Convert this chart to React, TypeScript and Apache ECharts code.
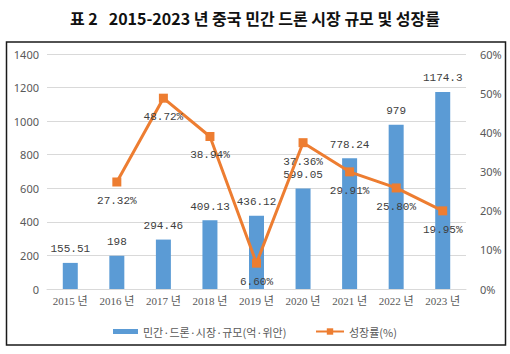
import React, { useEffect, useRef } from "react";
import * as echarts from "echarts";

const titleText = "표 2   2015-2023 년 중국 민간 드론 시장 규모 및 성장률";
const years = ["2015 년", "2016 년", "2017 년", "2018 년", "2019 년", "2020 년", "2021 년", "2022 년", "2023 년"];
const marketSize = [155.51, 198, 294.46, 409.13, 436.12, 599.05, 778.24, 979, 1174.3];
const growthRate: (number | null)[] = [null, 27.32, 48.72, 38.94, 6.6, 37.36, 29.91, 25.8, 19.95];
const barName = "민간·드론·시장·규모(억·위안)";
const lineName = "성장률(%)";

const BLUE = "#5B9BD5";
const ORANGE = "#ED7D31";
const MONO = "'Liberation Mono', 'Noto Sans CJK KR', monospace";

export default function App() {
  const ref = useRef<HTMLDivElement>(null);
  useEffect(() => {
    const chart = echarts.init(ref.current!, null, { renderer: "svg" });
    chart.setOption({
      animation: false,
      backgroundColor: "#fff",
      title: {
        text: titleText,
        left: "center",
        top: 5,
        textStyle: {
          fontFamily: "'Noto Sans CJK KR', sans-serif",
          fontSize: 16,
          fontWeight: "bold",
          color: "#111",
        },
      },
      graphic: [
        {
          type: "rect",
          shape: { x: 6.5, y: 42, width: 499, height: 303 },
          style: { fill: "none", stroke: "#1a1a1a", lineWidth: 1.5 },
          silent: true,
        },
      ],
      grid: { left: 47, right: 44, top: 54, bottom: 65 },
      legend: [
        {
          data: [barName],
          left: 108,
          top: 321,
          icon: "rect",
          itemWidth: 25,
          itemHeight: 5,
          itemGap: 5,
          textStyle: { color: "#595959", fontSize: 11, fontFamily: "'Noto Sans CJK KR', sans-serif" },
        },
        {
          data: [lineName],
          left: 310,
          top: 321,
          itemWidth: 28,
          itemHeight: 8,
          textStyle: { color: "#595959", fontSize: 11, fontFamily: "'Noto Sans CJK KR', sans-serif" },
        },
      ],
      xAxis: {
        type: "category",
        data: years,
        axisTick: { show: false },
        axisLine: { lineStyle: { color: "#D9D9D9" } },
        axisLabel: {
          color: "#595959",
          fontSize: 11,
          margin: 6,
          interval: 0,
          fontFamily: "'Liberation Serif', 'Noto Sans CJK KR', serif",
        },
      },
      yAxis: [
        {
          type: "value",
          min: 0,
          max: 1400,
          interval: 200,
          axisLabel: {
            color: "#595959",
            fontSize: 11,
            margin: 8,
            formatter: (v: number) => String(v),
            fontFamily: "'Noto Sans', sans-serif",
          },
          splitLine: { lineStyle: { color: "#D9D9D9" } },
          axisLine: { show: false },
          axisTick: { show: false },
        },
        {
          type: "value",
          min: 0,
          max: 60,
          interval: 10,
          axisLabel: { color: "#595959", fontSize: 11, margin: 14, formatter: "{value}%", fontFamily: "'Noto Sans', sans-serif" },
          splitLine: { show: false },
          axisLine: { show: false },
          axisTick: { show: false },
        },
      ],
      series: [
        {
          name: barName,
          type: "bar",
          data: marketSize,
          barWidth: 15,
          itemStyle: { color: BLUE },
          label: {
            show: true,
            position: "top",
            distance: 8,
            color: "#404040",
            fontSize: 11,
            fontFamily: MONO,
          },
        },
        {
          name: lineName,
          type: "line",
          yAxisIndex: 1,
          data: growthRate,
          connectNulls: false,
          symbol: "rect",
          symbolSize: 9,
          lineStyle: { color: ORANGE, width: 3 },
          itemStyle: { color: ORANGE },
          label: {
            show: true,
            position: "bottom",
            distance: 9,
            color: "#404040",
            fontSize: 11,
            fontFamily: MONO,
            formatter: (p: any) => Number(p.value).toFixed(2) + "%",
          },
          z: 3,
        },
      ],
    });
    return () => chart.dispose();
  }, []);
  return (
    <div
      ref={ref}
      style={{ position: "absolute", left: 0, top: 0, width: 510, height: 354 }}
    />
  );
}
